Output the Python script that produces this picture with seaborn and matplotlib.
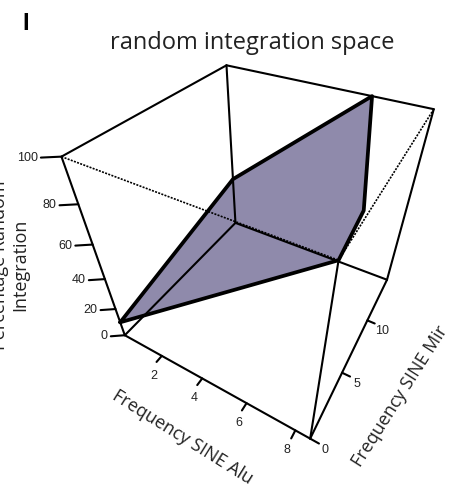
import numpy as np
import matplotlib
matplotlib.use("Agg")
import matplotlib.pyplot as plt
import seaborn as sns
from mpl_toolkits.mplot3d.art3d import Poly3DCollection

# surface outline of the random integration space
alu = [0, 0, 6.36, 8.44, 8.57]
mir = [0, 14.76, 14.76, 3.3, 0]
pct = [10.2, 33.5, 100, 100, 100]

alu_ticks = [2, 4, 6, 8]
mir_ticks = [0, 5, 10]
pct_ticks = [0, 20, 40, 60, 80, 100]

W, H = 462, 495
sns.set_style("white")
fig = plt.figure(figsize=(W / 100, H / 100), dpi=100)

# camera / axes box (fitted to the reference view)
S = 376.92
ax = fig.add_axes([70.59 / W, 68.17 / H, S / W, S / H], projection="3d")
ax.view_init(elev=40.76, azim=-60.15)
ax.set_proj_type("persp", focal_length=0.2093)
ax.set_box_aspect((1, 1, 1))
ax.set_axis_off()
ax.computed_zorder = False

amax, mmax, zmax = max(alu), max(mir), 100
ax.set_xlim(0, amax)
ax.set_ylim(0, mmax)
ax.set_zlim(0, zmax)

# filled surface
verts = [list(zip(alu, mir, pct))]
ax.add_collection3d(Poly3DCollection(verts, facecolor="#8f8aab", edgecolor="none", zorder=1,
                                     clip_on=False))

# box edges
box = dict(color="black", lw=1.5, zorder=2, solid_capstyle="round", clip_on=False)
dots = dict(color="black", lw=1.2, zorder=2, ls=(0, (1.2, 0.8)), clip_on=False)
for x in (0, amax):
    for y in (0, mmax):
        ax.plot([x, x], [y, y], [0, zmax], **box)
for x in (0, amax):
    for z in (0, zmax):
        ax.plot([x, x], [0, mmax], [z, z], **(dots if (x, z) == (amax, zmax) else box))
for y in (0, mmax):
    for z in (0, zmax):
        ax.plot([0, amax], [y, y], [z, z], **(dots if (y, z) == (0, zmax) else box))

# surface outline
ax.plot(alu + alu[:1], mir + mir[:1], pct + pct[:1], color="black", lw=2.7, zorder=3,
        solid_joinstyle="round", clip_on=False)

# tick marks
tick = dict(color="black", lw=1.5, zorder=2, clip_on=False)
for t in pct_ticks:
    ax.plot([0, -0.47], [0, -0.57], [t, t], **tick)
for t in alu_ticks:
    ax.plot([t, t], [0, -0.55], [0, 0], **tick)
for t in mir_ticks:
    ax.plot([amax, amax + 0.33], [t, t], [0, 0], **tick)

# tick labels placed through the 3d projection
fig.canvas.draw()
M = ax.get_proj()


def to_px(x, y, z):
    v = M @ np.array([x, y, z, 1.0])
    return ax.transData.transform((v[0] / v[3], v[1] / v[3]))


tick_font = dict(family="Liberation Sans", size=9, color="#222222")
for t in pct_ticks:
    px = to_px(-0.47, -0.57, t)
    fig.text((px[0] - 3) / W, px[1] / H, str(t), ha="right", va="center", **tick_font)
for t in alu_ticks:
    px = to_px(t, 0, 0)
    fig.text((px[0] - 8) / W, (px[1] - 20) / H, str(t), ha="center", va="center", **tick_font)
for t in mir_ticks:
    px = to_px(amax, t, 0)
    fig.text((px[0] + 15) / W, (px[1] - 11) / H, str(t), ha="center", va="center", **tick_font)

# axis labels
label_font = dict(family="Open Sans", size=13, color="#222222")
fig.text(182 / W, 1 - 437 / H, "Frequency SINE Alu", rotation=-32, rotation_mode="anchor",
         ha="center", va="center", **label_font)
fig.text(400 / W, 1 - 396 / H, "Frequency SINE Mir", rotation=57.6, rotation_mode="anchor",
         ha="center", va="center", **label_font)
fig.text(10.5 / W, 1 - 265 / H, "Percentage Random\nIntegration", rotation=90, ha="center",
         va="center", multialignment="center", linespacing=1.15, **label_font)

fig.text(252 / W, 1 - 43 / H, "random integration space", ha="center", va="center",
         family="Open Sans", size=17, color="#222222")
fig.text(26 / W, 1 - 23 / H, "I", ha="center", va="center", family="Liberation Sans",
         weight="bold", size=17, color="black")

fig.savefig("out.png", dpi=100)
